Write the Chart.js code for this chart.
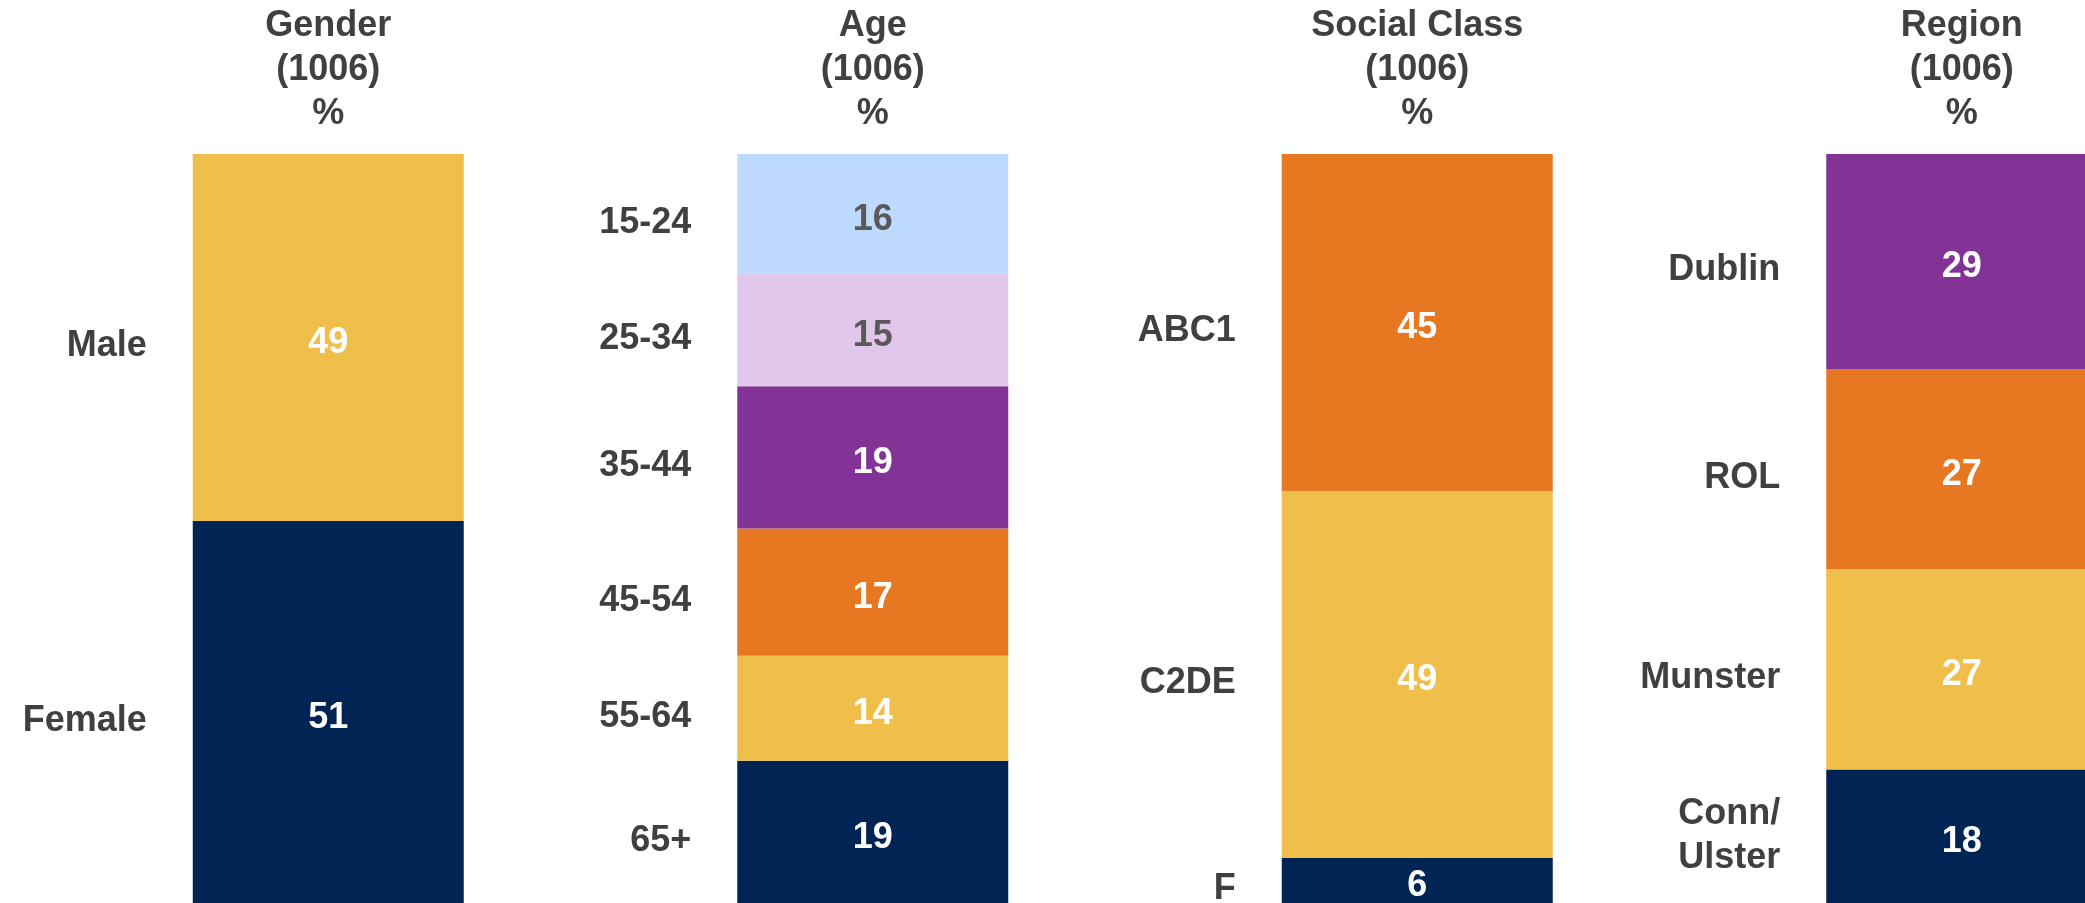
<!DOCTYPE html>
<html><head><meta charset="utf-8">
<script src="https://cdn.jsdelivr.net/npm/chart.js@4/dist/chart.umd.min.js"></script>
<style>
html,body{margin:0;padding:0;overflow:hidden;background:#fff;width:2085px;height:903px}
canvas{display:block}
</style></head>
<body><canvas id="c" width="2234" height="903" style="width:2234px;height:903px"></canvas>
<script>
// ---- data ----
const groupNames = ['Gender', 'Age', 'Social Class', 'Region'];
const groupBase = '(1006)';
const groupUnit = '%';
const genderLabels = ['Male', 'Female'];
const genderValues = [49, 51];
const ageLabels = ['15-24', '25-34', '35-44', '45-54', '55-64', '65+'];
const ageValues = [16, 15, 19, 17, 14, 19];
const classLabels = ['ABC1', 'C2DE', 'F'];
const classValues = [45, 49, 6];
const regionLabels = ['Dublin', 'ROL', 'Munster', ['Conn/', 'Ulster']];
const regionValues = [29, 27, 27, 18];

// ---- styles ----
const NAVY = '#002454', YELLOW = '#F0BE4A', ORANGE = '#E77721', PURPLE = '#833296',
      LAVENDER = '#E2C7EC', LIGHTBLUE = '#BDDAFE';
const genderColors = [YELLOW, NAVY];
const ageColors = [LIGHTBLUE, LAVENDER, PURPLE, ORANGE, YELLOW, NAVY];
const classColors = [ORANGE, YELLOW, NAVY];
const regionColors = [PURPLE, ORANGE, YELLOW, NAVY];
const lightFills = [LIGHTBLUE, LAVENDER];
const TEXT = '#404040';
const FONT = "'Liberation Sans', Arial, sans-serif";

const groups = [
  { labels: genderLabels, values: genderValues, colors: genderColors },
  { labels: ageLabels, values: ageValues, colors: ageColors },
  { labels: classLabels, values: classValues, colors: classColors },
  { labels: regionLabels, values: regionValues, colors: regionColors }
];

const datasets = [];
const scales = {
  x: {
    position: 'top', stacked: true, offset: true,
    grid: { display: false, drawTicks: false }, border: { display: false },
    ticks: { font: { family: FONT, size: 36, weight: 'bold', lineHeight: 1.22 }, color: TEXT,
             padding: 18, autoSkip: false, maxRotation: 0 },
    afterFit(s) { s.height = 154; }
  }
};
groups.forEach((g, gi) => {
  scales['y' + gi] = { stacked: true, reverse: true, min: 0,
    max: g.values.reduce((a, b) => a + b, 0), display: false };
  g.values.forEach((v, si) => {
    datasets.push({
      label: Array.isArray(g.labels[si]) ? g.labels[si].join(' ') : g.labels[si],
      segLabel: g.labels[si],
      data: groupNames.map((_, k) => (k === gi ? v : null)),
      backgroundColor: g.colors[si],
      valueColor: lightFills.includes(g.colors[si]) ? '#595959' : '#FFFFFF',
      yAxisID: 'y' + gi,
      stack: 'all',
      borderWidth: 0
    });
  });
});

const segText = {
  id: 'segText',
  afterDatasetsDraw(chart) {
    const ctx = chart.ctx;
    ctx.save();
    ctx.font = 'bold 36px ' + FONT;
    ctx.textBaseline = 'middle';
    chart.data.datasets.forEach((ds, di) => {
      const meta = chart.getDatasetMeta(di);
      meta.data.forEach((el, i) => {
        const v = ds.data[i];
        if (v === null || v === undefined) return;
        const p = el.getProps(['x', 'y', 'base', 'width'], true);
        const cy = (p.y + p.base) / 2;
        ctx.fillStyle = ds.valueColor;
        ctx.textAlign = 'center';
        ctx.fillText(String(v), p.x, cy + 6);
        ctx.fillStyle = TEXT;
        ctx.textAlign = 'right';
        const lines = Array.isArray(ds.segLabel) ? ds.segLabel : [ds.segLabel];
        const lh = 44;
        const off = lines.length > 1 ? 0 : 9;
        lines.forEach((t, li) => {
          ctx.fillText(t, p.x - p.width / 2 - 46, cy + off + (li - (lines.length - 1) / 2) * lh);
        });
      });
    });
    ctx.restore();
  }
};

Chart.defaults.font.family = FONT;
new Chart(document.getElementById('c'), {
  type: 'bar',
  data: { labels: groupNames.map(n => [n, groupBase, groupUnit]), datasets },
  options: {
    responsive: false, animation: false,
    layout: { padding: { left: 56, right: 0, top: 0, bottom: 0 } },
    categoryPercentage: 1, barPercentage: 0.4977,
    plugins: { legend: { display: false }, tooltip: { enabled: false } },
    scales
  },
  plugins: [segText]
});
</script>
</body></html>
